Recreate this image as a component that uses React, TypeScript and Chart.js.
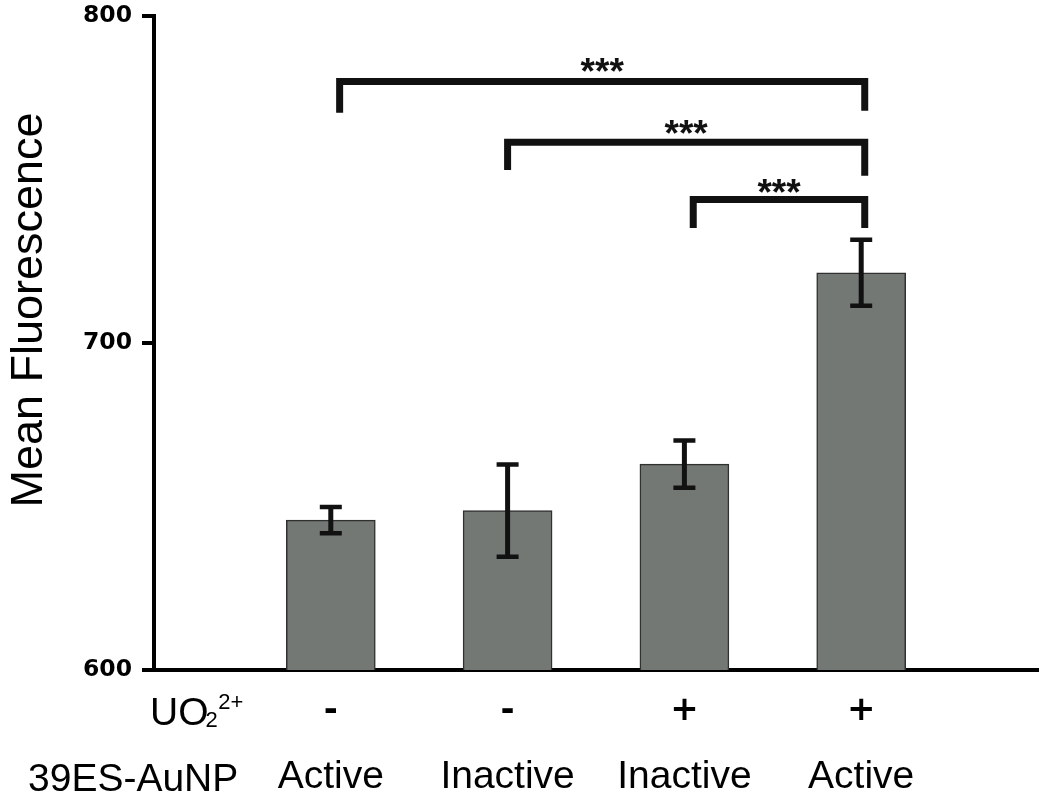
import React, { useEffect, useRef } from "react";
import { Chart, registerables } from "chart.js";

Chart.register(...registerables);

// ---- data ----
const positions = [1, 2, 3, 4];
const uo2Labels = ["-", "-", "+", "+"];
const aunpLabels = ["Active", "Inactive", "Inactive", "Active"];
const meanFluorescence = [645.8, 648.7, 662.9, 721.4];
const errorSEM = [4.0, 14.1, 7.2, 10.1];
const yTicks = [600, 700, 800];

// significance brackets (x in category units, y in data units)
const bracketFrom = [1.05, 2.0, 3.05];
const bracketTo = [4.02, 4.02, 4.02];
const bracketLevel = [779.8, 761.3, 743.8];
const bracketLeftEnd = [770.3, 752.8, 735.1];
const bracketRightEnd = [770.9, 751.0, 735.1];
const starLevel = [785.5, 766.8, 748.8];
const starLabels = ["***", "***", "***"];

const yTitle = "Mean Fluorescence";
const rowLabel1Main = "UO";
const rowLabel1Sub = "2";
const rowLabel1Sup = "2+";
const rowLabel2 = "39ES-AuNP";

const FONT = '"Liberation Sans", Arial, Helvetica, sans-serif';
const BOLD_FONT = '"DejaVu Sans", Verdana, sans-serif';

const annotPlugin = {
  id: "annot",
  afterDatasetsDraw(chart: any) {
    const ctx = chart.ctx;
    const xs = chart.scales.x;
    const ys = chart.scales.y;
    ctx.save();
    ctx.strokeStyle = "#111";
    ctx.fillStyle = "#111";
    ctx.lineCap = "butt";
    // error bars
    meanFluorescence.forEach((m, i) => {
      const x = xs.getPixelForValue(positions[i]);
      const yt = ys.getPixelForValue(m + errorSEM[i]);
      const yb = ys.getPixelForValue(m - errorSEM[i]);
      ctx.lineWidth = 5;
      ctx.beginPath();
      ctx.moveTo(x, yt);
      ctx.lineTo(x, yb);
      ctx.stroke();
      ctx.lineWidth = 4.5;
      ctx.beginPath();
      ctx.moveTo(x - 11, yt);
      ctx.lineTo(x + 11, yt);
      ctx.moveTo(x - 11, yb);
      ctx.lineTo(x + 11, yb);
      ctx.stroke();
    });
    // brackets
    ctx.lineWidth = 7;
    ctx.lineJoin = "miter";
    const starSize = 37;
    bracketFrom.forEach((from, i) => {
      const x1 = xs.getPixelForValue(from);
      const x2 = xs.getPixelForValue(bracketTo[i]);
      const y = ys.getPixelForValue(bracketLevel[i]);
      ctx.beginPath();
      ctx.moveTo(x1, ys.getPixelForValue(bracketLeftEnd[i]));
      ctx.lineTo(x1, y);
      ctx.lineTo(x2, y);
      ctx.lineTo(x2, ys.getPixelForValue(bracketRightEnd[i]));
      ctx.stroke();
      ctx.font = `bold ${starSize}px ${FONT}`;
      ctx.textAlign = "center";
      ctx.textBaseline = "alphabetic";
      ctx.fillText(
        starLabels[i],
        (x1 + x2) / 2,
        ys.getPixelForValue(starLevel[i]) + 0.58 * starSize
      );
    });
    ctx.restore();
  },
  afterDraw(chart: any) {
    const ctx = chart.ctx;
    ctx.save();
    ctx.fillStyle = "#000";
    // y title
    ctx.save();
    ctx.translate(42, 310);
    ctx.rotate(-Math.PI / 2);
    ctx.font = `45px ${FONT}`;
    ctx.textAlign = "center";
    ctx.textBaseline = "alphabetic";
    ctx.fillText(yTitle, 0, 0);
    ctx.restore();
    // row labels
    ctx.textAlign = "left";
    ctx.textBaseline = "alphabetic";
    ctx.font = `39px ${FONT}`;
    const x0 = 150;
    ctx.fillText(rowLabel1Main, x0, 725);
    const w = ctx.measureText(rowLabel1Main).width;
    ctx.font = `22px ${FONT}`;
    const xs = x0 + w - 3;
    ctx.fillText(rowLabel1Sub, xs, 727);
    const ws = ctx.measureText(rowLabel1Sub).width;
    ctx.fillText(rowLabel1Sup, xs + ws + 0.5, 709);
    ctx.font = `39px ${FONT}`;
    ctx.fillText(rowLabel2, 28, 791);
    ctx.restore();
  },
};

export default function App() {
  const ref = useRef<HTMLCanvasElement | null>(null);
  useEffect(() => {
    if (!ref.current) return;
    Chart.defaults.font.family = FONT;
    const chart = new Chart(ref.current, {
      type: "bar",
      data: {
        datasets: [
          {
            data: positions.map((p, i) => ({ x: p, y: meanFluorescence[i] })) as any,
            backgroundColor: "#737874",
            borderColor: "#303030",
            borderWidth: 1.5,
            barThickness: 89,
            xAxisID: "x",
            yAxisID: "y",
          },
        ],
      },
      options: {
        animation: false,
        responsive: true,
        maintainAspectRatio: false,
        layout: { padding: { left: 0, right: 12, top: 15.5, bottom: 0 } },
        plugins: { legend: { display: false }, tooltip: { enabled: false } },
        scales: {
          x: {
            type: "linear",
            position: "bottom",
            min: 0,
            max: 5,
            offset: false,
            weight: 0,
            afterBuildTicks: (s: any) => {
              s.ticks = positions.map((v) => ({ value: v }));
            },
            afterFit: (s: any) => {
              s.height = 62;
            },
            grid: { display: false, drawTicks: false, tickLength: 0 },
            border: { display: true, color: "#000", width: 4 },
            ticks: {
              callback: (_v: any, i: number) => uo2Labels[i],
              font: { family: BOLD_FONT, size: 34, weight: "bold", lineHeight: 1 },
              color: "#000",
              padding: 24,
              maxRotation: 0,
              autoSkip: false,
            },
          },
          x2: {
            type: "linear",
            position: "bottom",
            min: 0,
            max: 5,
            offset: false,
            weight: 1,
            afterBuildTicks: (s: any) => {
              s.ticks = positions.map((v) => ({ value: v }));
            },
            afterFit: (s: any) => {
              s.height = 61;
            },
            grid: { display: false, drawTicks: false, tickLength: 0 },
            border: { display: false },
            ticks: {
              callback: (_v: any, i: number) => aunpLabels[i],
              font: { size: 39, lineHeight: 1 },
              color: "#000",
              padding: 26,
              maxRotation: 0,
              autoSkip: false,
            },
          },
          y: {
            type: "linear",
            min: 600,
            max: 800,
            afterBuildTicks: (s: any) => {
              s.ticks = yTicks.map((v) => ({ value: v }));
            },
            afterFit: (s: any) => {
              s.width = 154;
              s.paddingTop = 0;
            },
            grid: {
              drawOnChartArea: false,
              drawTicks: true,
              tickLength: 12,
              lineWidth: 4,
              color: "#000",
            },
            border: { display: true, color: "#000", width: 4 },
            ticks: {
              font: { family: BOLD_FONT, size: 23.5, weight: "bold" },
              color: "#000",
              padding: 10,
            },
          },
        },
      } as any,
      plugins: [annotPlugin],
    });
    return () => chart.destroy();
  }, []);
  return (
    <div
      style={{
        position: "absolute",
        left: 0,
        top: 0,
        width: 1050,
        height: 793,
        background: "#fff",
      }}
    >
      <canvas ref={ref} />
    </div>
  );
}
